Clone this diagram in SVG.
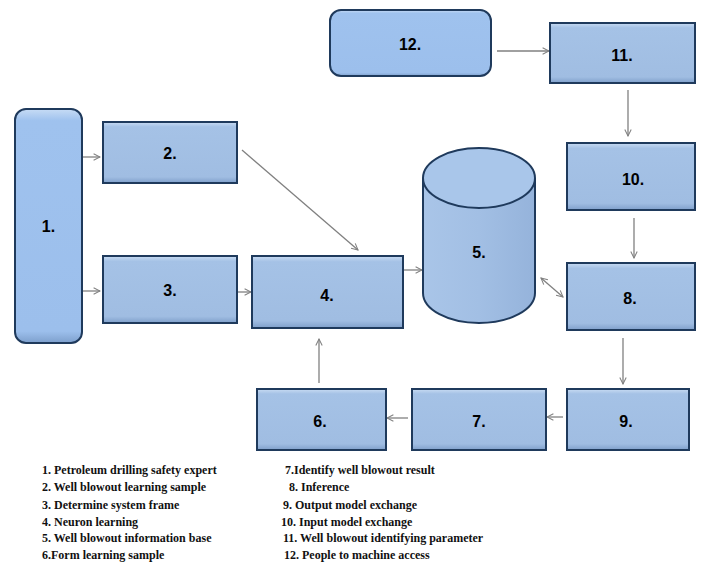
<svg xmlns="http://www.w3.org/2000/svg" width="703" height="563" viewBox="0 0 703 563">
<style>
.box{fill:url(#bev);stroke:#1f3a5c;stroke-width:2}
.rbox{fill:url(#bev2);stroke:#1f3a5c;stroke-width:2}
.lbl{font-family:"Liberation Sans",Arial,sans-serif;font-weight:bold;font-size:16px;fill:#000;text-anchor:middle;dominant-baseline:central}
.con{fill:none;stroke:#808080;stroke-width:1.3;marker-end:url(#ah)}
.leg{font-family:"Liberation Serif","Times New Roman",serif;font-weight:bold;font-size:12px;fill:#111}
</style>
<defs>
<linearGradient id="bev" x1="0" y1="0" x2="0" y2="1">
<stop offset="0" stop-color="#c9dcf3"/>
<stop offset="0.08" stop-color="#a5c2e6"/>
<stop offset="0.9" stop-color="#a0bde2"/>
<stop offset="1" stop-color="#7f9fca"/>
</linearGradient>
<linearGradient id="bev2" x1="0" y1="0" x2="0" y2="1">
<stop offset="0" stop-color="#c7dcf5"/>
<stop offset="0.05" stop-color="#9fc2ee"/>
<stop offset="0.95" stop-color="#9cbfec"/>
<stop offset="1" stop-color="#7d9fcc"/>
</linearGradient>
<linearGradient id="cyl" x1="0" y1="0" x2="1" y2="0">
<stop offset="0" stop-color="#a9c5e8"/>
<stop offset="0.5" stop-color="#a2bfe4"/>
<stop offset="1" stop-color="#95b3db"/>
</linearGradient>
<marker id="ah" viewBox="0 0 10 10" refX="9" refY="5" markerWidth="8" markerHeight="8" orient="auto-start-reverse" markerUnits="userSpaceOnUse">
<path d="M1,1 L9,5 L1,9" fill="none" stroke="#808080" stroke-width="1.3"/>
</marker>
</defs>
<rect width="703" height="563" fill="#fff"/>
<g id="connectors">
<line class="con" x1="82" y1="157" x2="100" y2="157"/>
<line class="con" x1="82" y1="291" x2="100" y2="291"/>
<line class="con" x1="242" y1="150" x2="358" y2="250"/>
<line class="con" x1="237" y1="292" x2="251" y2="292"/>
<line class="con" x1="403" y1="270" x2="422" y2="270"/>
<line class="con" x1="497" y1="51" x2="549" y2="51"/>
<line class="con" x1="628" y1="90" x2="628" y2="136"/>
<line class="con" x1="634" y1="218" x2="634" y2="258"/>
<line class="con" x1="541" y1="278" x2="563" y2="297" marker-start="url(#ah)"/>
<line class="con" x1="623" y1="338" x2="623" y2="384"/>
<line class="con" x1="563" y1="417" x2="547" y2="417"/>
<line class="con" x1="408" y1="418" x2="387" y2="418"/>
<line class="con" x1="319" y1="383" x2="319" y2="339"/>
</g>
<g id="n1"><rect class="rbox" x="15" y="109" width="67" height="234" rx="11"/><text class="lbl" x="48.5" y="226">1.</text></g>
<g id="n2"><rect class="box" x="103" y="122" width="134" height="61"/><text class="lbl" x="170" y="153">2.</text></g>
<g id="n3"><rect class="box" x="103" y="256" width="134" height="67"/><text class="lbl" x="170" y="290">3.</text></g>
<g id="n4"><rect class="box" x="252" y="256" width="151" height="72"/><text class="lbl" x="327" y="295">4.</text></g>
<g id="n5">
<path d="M423,178 L423,293 A56,30 0 0 0 535,293 L535,178" fill="url(#cyl)" stroke="#1f3a5c" stroke-width="2"/>
<ellipse cx="479" cy="178" rx="56" ry="30" fill="#a9c6ea" stroke="#1f3a5c" stroke-width="2"/>
<text class="lbl" x="479" y="252">5.</text>
</g>
<g id="n6"><rect class="box" x="257" y="389" width="129" height="61"/><text class="lbl" x="320" y="421">6.</text></g>
<g id="n7"><rect class="box" x="412" y="389" width="134" height="61"/><text class="lbl" x="479" y="421">7.</text></g>
<g id="n8"><rect class="box" x="567" y="263" width="128" height="67"/><text class="lbl" x="630" y="298">8.</text></g>
<g id="n9"><rect class="box" x="567" y="389" width="122" height="61"/><text class="lbl" x="626" y="421">9.</text></g>
<g id="n10"><rect class="box" x="567" y="143" width="128" height="67"/><text class="lbl" x="633" y="179">10.</text></g>
<g id="n11"><rect class="box" x="550" y="23" width="145" height="60"/><text class="lbl" x="622" y="55">11.</text></g>
<g id="n12"><rect class="rbox" x="330" y="10" width="161" height="66" rx="11"/><text class="lbl" x="410" y="44">12.</text></g>
<g id="legend">
<text class="leg" x="42" y="474">1. Petroleum drilling safety expert</text>
<text class="leg" x="42" y="491">2. Well blowout learning sample</text>
<text class="leg" x="42" y="509">3. Determine system frame</text>
<text class="leg" x="42" y="526">4. Neuron learning</text>
<text class="leg" x="42" y="542">5. Well blowout information base</text>
<text class="leg" x="42" y="559">6.Form learning sample</text>
<text class="leg" x="285" y="474">7.Identify well blowout result</text>
<text class="leg" x="289" y="491">8. Inference</text>
<text class="leg" x="283" y="509">9. Output model exchange</text>
<text class="leg" x="281" y="526">10. Input model exchange</text>
<text class="leg" x="283" y="542">11. Well blowout identifying parameter</text>
<text class="leg" x="284" y="559">12. People to machine access</text>
</g>
</svg>
